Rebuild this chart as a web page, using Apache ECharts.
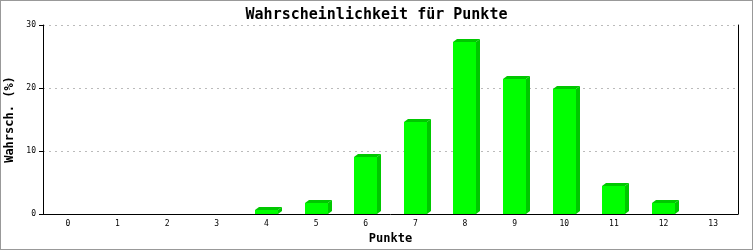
<!DOCTYPE html>
<html><head><meta charset="utf-8">
<script src="https://cdn.jsdelivr.net/npm/echarts@6/dist/echarts.min.js"></script>
<style>
html,body{margin:0;padding:0;background:#fff;}
#c{width:753px;height:250px;box-sizing:border-box;border:1px solid #999;}
</style></head>
<body><div id="c"></div>
<script>
const categories = ['0','1','2','3','4','5','6','7','8','9','10','11','12','13'];
const values = [0, 0, 0, 0, 0.6, 1.8, 9.0, 14.6, 27.3, 21.5, 19.9, 4.4, 1.7, 0];
const yTicks = [0, 10, 20, 30];

const chart = echarts.init(document.getElementById('c'), null, {renderer:'canvas'});
const mono = '"DejaVu Sans Mono", "Liberation Mono", monospace';
chart.setOption({
  animation:false,
  title:{text:'Wahrscheinlichkeit für Punkte', left:'center', top:2,
    textStyle:{fontFamily:mono, fontSize:15, fontWeight:'bold', color:'#000'}},
  grid:{left:42, right:14, top:24, bottom:35, containLabel:false, outerBoundsMode:'none'},
  xAxis:{type:'category', data:categories, name:'Punkte', nameLocation:'middle', nameGap:19,
    nameTextStyle:{fontFamily:mono, fontSize:12, fontWeight:'bold', color:'#000'},
    axisLine:{lineStyle:{color:'#000', width:1}}, axisTick:{show:false},
    axisLabel:{fontFamily:mono, fontSize:8, color:'#000', margin:6}},
  yAxis:[{type:'value', min:yTicks[0], max:yTicks[yTicks.length-1], interval:10,
    name:'Wahrsch. (%)', nameLocation:'middle', nameGap:21, nameRotate:90,
    nameTextStyle:{fontFamily:mono, fontSize:12, fontWeight:'bold', color:'#000'},
    axisLine:{show:true, lineStyle:{color:'#000'}},
    axisTick:{show:true, length:4, lineStyle:{color:'#000'}},
    axisLabel:{fontFamily:mono, fontSize:8, color:'#000', margin:7},
    splitLine:{show:true, lineStyle:{color:'#bbb', type:[2,4]}}},
   {type:'value', position:'right', min:0, max:30, interval:10,
    axisLine:{show:true, lineStyle:{color:'#000'}}, axisTick:{show:false},
    axisLabel:{show:false}, splitLine:{show:false}}],
  series:[{type:'custom', data:values.map((v,i)=>[i,v]),
    renderItem:function(params, api){
      const x = api.value(0), v = api.value(1);
      if(!(v>0)) return null;
      const p = api.coord([x, v]), p0 = api.coord([x, 0]);
      const w = 23, d = 4, h = 3;
      const l = Math.round(p[0] - w/2), t = Math.round(p[1]), b = Math.round(p0[1]);
      return {type:'group', children:[
        {type:'polygon', shape:{points:[[l+w,t],[l+w+d,t-h],[l+w+d,b-h],[l+w,b]]}, style:{fill:'#00c800'}},
        {type:'polygon', shape:{points:[[l,t],[l+d,t-h],[l+w+d,t-h],[l+w,t]]}, style:{fill:'#00c800'}},
        {type:'rect', shape:{x:l, y:t, width:w, height:b-t}, style:{fill:'#00ff00'}}
      ]};
    }}]
});
</script></body></html>
